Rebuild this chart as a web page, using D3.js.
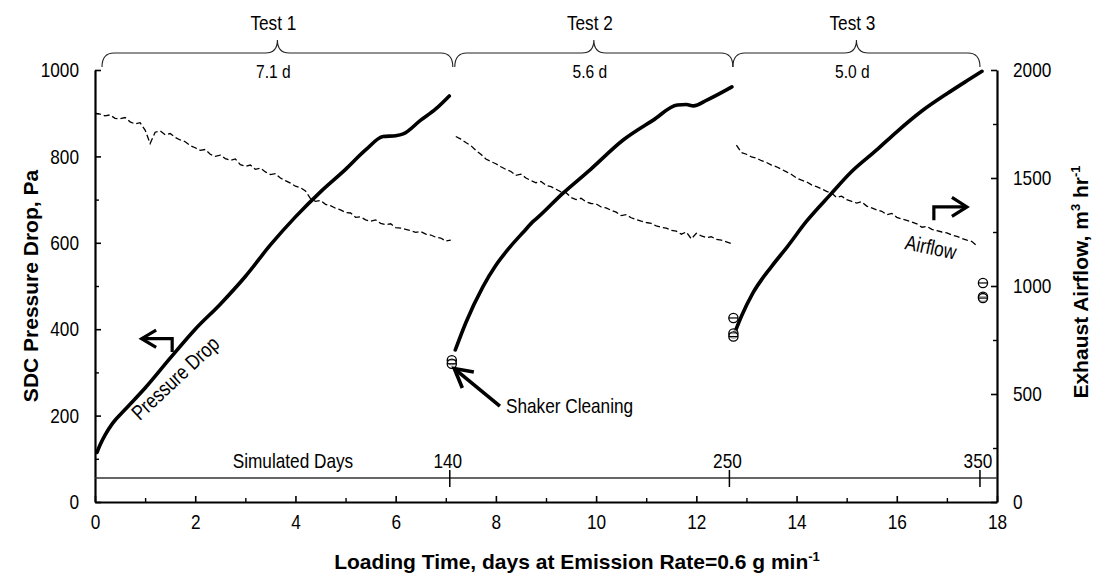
<!DOCTYPE html>
<html><head><meta charset="utf-8">
<script src="https://cdn.jsdelivr.net/npm/d3@7"></script>
<style>
html,body{margin:0;padding:0;background:#fff;}
svg{display:block;}
</style></head>
<body>
<svg id="chart" width="1101" height="583"></svg>
<script>
// ---------------- DATA ----------------
const xTicks = [0,2,4,6,8,10,12,14,16,18];
const xMinor = [1,3,5,7,9,11,13,15,17];
const leftTicks = [0,200,400,600,800,1000];
const leftMinor = [100,300,500,700,900];
const rightTicks = [0,500,1000,1500,2000];
const rightMinor = [250,750,1250,1750];

// Pressure drop (Pa) vs loading time (days)
const p1Days = [0.04,0.1,0.2,0.35,0.6,1.0,1.5,2.0,2.5,3.0,3.5,4.0,4.5,5.0,5.4,5.75,6.0,6.15,6.5,6.8,7.07];
const p1Pa   = [115,132,155,182,214,264,333,400,458,522,595,660,718,770,815,846,848,852,884,910,940];
const p2Days = [7.19,7.4,7.74,8.0,8.28,8.55,8.75,8.82,9.34,9.88,10.54,11.14,11.62,11.8,11.94,12.22,12.71];
const p2Pa   = [352,415,498,548,590,625,650,657,715,769,838,884,919,920,917,931,961];
const p3Days = [12.77,12.9,13.13,13.5,13.81,14.2,14.67,15.1,15.6,16.0,16.5,17.0,17.4,17.7];
const p3Pa   = [393,430,484,545,590,650,711,765,815,857,905,945,975,997];

// Pressure after shaker cleaning (Pa)
const cleanDays = [7.12,7.12,12.74,12.74,12.74,17.72,17.72,17.72];
const cleanPa   = [328,320,426,390,383,507,475,472];

// Exhaust airflow (m3/hr)
const a1Days = [0.0,0.1,0.2,0.3,0.4,0.5,0.6,0.7,0.8,0.9,1.0,1.1,1.2,1.3,1.4,1.5,1.6,1.7,1.8,1.9,2.0,2.1,2.2,2.3,2.4,2.5,2.6,2.7,2.8,2.9,3.0,3.1,3.2,3.3,3.4,3.5,3.6,3.7,3.8,3.9,4.0,4.1,4.2,4.3,4.4,4.5,4.6,4.7,4.8,4.9,5.0,5.1,5.2,5.3,5.4,5.5,5.6,5.7,5.8,5.9,6.0,6.1,6.2,6.3,6.4,6.5,6.6,6.7,6.8,6.9,7.0,7.1];
const a1Flow = [1800,1796,1788,1792,1776,1774,1780,1760,1750,1756,1722,1660,1712,1718,1700,1706,1688,1676,1668,1650,1640,1628,1632,1610,1600,1606,1590,1582,1588,1562,1554,1560,1540,1546,1528,1516,1520,1500,1488,1476,1462,1455,1440,1405,1392,1396,1378,1372,1360,1352,1340,1338,1318,1320,1306,1300,1306,1290,1284,1288,1270,1268,1262,1256,1248,1252,1240,1236,1226,1222,1208,1212];
const a2Days = [7.2,7.3,7.4,7.5,7.6,7.7,7.8,7.9,8.0,8.1,8.2,8.3,8.4,8.5,8.6,8.7,8.8,8.9,9.0,9.1,9.2,9.3,9.4,9.5,9.6,9.7,9.8,9.9,10.0,10.1,10.2,10.3,10.4,10.5,10.6,10.7,10.8,10.9,11.0,11.1,11.2,11.3,11.4,11.5,11.6,11.7,11.8,11.9,12.0,12.1,12.2,12.3,12.4,12.5,12.6,12.7];
const a2Flow = [1692,1680,1664,1650,1628,1610,1588,1576,1566,1552,1540,1530,1512,1518,1500,1488,1478,1484,1466,1460,1448,1436,1432,1410,1400,1406,1390,1382,1380,1366,1362,1350,1342,1326,1330,1316,1308,1300,1294,1290,1278,1272,1268,1258,1254,1240,1250,1218,1244,1232,1224,1228,1216,1212,1204,1196];
const a3Days = [12.8,12.9,13.0,13.1,13.2,13.3,13.4,13.5,13.6,13.7,13.8,13.9,14.0,14.1,14.2,14.3,14.4,14.5,14.6,14.7,14.8,14.9,15.0,15.1,15.2,15.3,15.4,15.5,15.6,15.7,15.8,15.9,16.0,16.1,16.2,16.3,16.4,16.5,16.6,16.7,16.8,16.9,17.0,17.1,17.2,17.3,17.4,17.5,17.6];
const a3Flow = [1652,1618,1610,1598,1592,1580,1572,1560,1552,1540,1528,1516,1500,1490,1482,1468,1460,1450,1438,1430,1410,1416,1400,1392,1384,1390,1370,1362,1352,1346,1330,1336,1318,1310,1304,1296,1288,1272,1276,1262,1256,1250,1246,1236,1230,1220,1212,1206,1186];

// Test braces
const testLabels = ["Test 1","Test 2","Test 3"];
const testDurations = ["7.1 d","5.6 d","5.0 d"];
const braceStart = [0.14,7.18,12.73];
const braceEnd   = [7.14,12.73,17.66];

// Simulated days secondary scale
const simLabels = ["140","250","350"];
const simLoadDays = [7.08,12.66,17.66];

// ---------------- LAYOUT ----------------
const W = 1101, H = 583;
const M = {top:70, right:104, bottom:81, left:95};
const svg = d3.select("#chart");
const x  = d3.scaleLinear().domain([0,18]).range([M.left, W-M.right]);
const yL = d3.scaleLinear().domain([0,1000]).range([H-M.bottom, M.top]);
const yR = d3.scaleLinear().domain([0,2000]).range([H-M.bottom, M.top]);

// narrow font detection
let narrowFam = "'Liberation Sans Narrow', 'Liberation Sans', Arial, sans-serif";
let sx = 1;
(function(){
  const t1 = svg.append("text").style("font-family","'Liberation Sans Narrow', 'Liberation Sans'").style("font-size","20px").text("Test 1 Simulated");
  const t2 = svg.append("text").style("font-family","'Liberation Sans'").style("font-size","20px").text("Test 1 Simulated");
  const r = t1.node().getComputedTextLength()/t2.node().getComputedTextLength();
  t1.remove(); t2.remove();
  if (r > 0.93) { sx = 0.82; narrowFam = "'Liberation Sans', Arial, sans-serif"; }
})();

function ntext(xp, yp, str, size, anchor, angle) {
  return svg.append("text")
    .attr("transform", `translate(${xp},${yp}) rotate(${angle||0}) scale(${sx},1)`)
    .style("font-family", narrowFam).style("font-size", size+"px")
    .attr("text-anchor", anchor||"start").attr("fill","#000").text(str);
}

// ---------------- AXES ----------------
function styleAxis(g){
  g.select(".domain").attr("stroke","#000").attr("stroke-width",2.2);
  g.selectAll(".tick line").attr("stroke","#000").attr("stroke-width",1.6);
  g.selectAll(".tick text").style("font-family", narrowFam).style("font-size","21px").attr("fill","#000");
}
const fmt = d3.format("d");
// bottom
const gx = svg.append("g").attr("transform",`translate(0,${H-M.bottom})`)
  .call(d3.axisBottom(x).tickValues(xTicks).tickSize(-6).tickSizeOuter(0).tickPadding(12).tickFormat(fmt));
styleAxis(gx);
gx.selectAll(".tick text").attr("transform",`scale(${sx},1)`);
svg.append("g").attr("transform",`translate(0,${H-M.bottom})`)
  .call(d3.axisBottom(x).tickValues(xMinor).tickSize(-4).tickFormat(""))
  .call(g=>{g.select(".domain").remove(); g.selectAll("line").attr("stroke","#000").attr("stroke-width",1.4);});
// left
const gl = svg.append("g").attr("transform",`translate(${M.left},0)`)
  .call(d3.axisLeft(yL).tickValues(leftTicks).tickSize(-6).tickSizeOuter(0).tickPadding(16).tickFormat(fmt));
styleAxis(gl);
gl.selectAll(".tick text").attr("x", -16/sx).attr("transform",`scale(${sx},1)`);
svg.append("g").attr("transform",`translate(${M.left},0)`)
  .call(d3.axisLeft(yL).tickValues(leftMinor).tickSize(-4).tickFormat(""))
  .call(g=>{g.select(".domain").remove(); g.selectAll("line").attr("stroke","#000").attr("stroke-width",1.4);});
// right
const gr = svg.append("g").attr("transform",`translate(${W-M.right},0)`)
  .call(d3.axisRight(yR).tickValues(rightTicks).tickSize(-6).tickSizeOuter(0).tickPadding(16).tickFormat(fmt));
styleAxis(gr);
gr.selectAll(".tick text").attr("x", 16/sx).attr("transform",`scale(${sx},1)`);
svg.append("g").attr("transform",`translate(${W-M.right},0)`)
  .call(d3.axisRight(yR).tickValues(rightMinor).tickSize(-4).tickFormat(""))
  .call(g=>{g.select(".domain").remove(); g.selectAll("line").attr("stroke","#000").attr("stroke-width",1.4);});

// axis titles
const titleFont = "'Liberation Sans', Arial, sans-serif";
const bt = svg.append("text").attr("x", 577).attr("y", 569).attr("text-anchor","middle")
  .style("font-family",titleFont).style("font-size","21px").style("font-weight","bold");
bt.append("tspan").text("Loading Time, days at Emission Rate=0.6 g min");
bt.append("tspan").attr("dy",-8).style("font-size","13px").text("-1");
svg.append("text").attr("transform",`translate(38,${(M.top+H-M.bottom)/2}) rotate(-90)`).attr("text-anchor","middle")
  .style("font-family",titleFont).style("font-size","21px").style("font-weight","bold").text("SDC Pressure Drop, Pa");
const rt = svg.append("text").attr("transform",`translate(1088,${(M.top+H-M.bottom)/2 - 4}) rotate(-90)`).attr("text-anchor","middle")
  .style("font-family",titleFont).style("font-size","21px").style("font-weight","bold");
rt.append("tspan").text("Exhaust Airflow, m");
rt.append("tspan").attr("dy",-8).style("font-size","13px").text("3");
rt.append("tspan").attr("dy",8).text(" hr");
rt.append("tspan").attr("dy",-8).style("font-size","13px").text("-1");

// ---------------- SIMULATED DAYS ----------------
const simY = H - M.bottom - 24;
svg.append("line").attr("x1",x(0)).attr("x2",x(18)).attr("y1",simY).attr("y2",simY)
  .attr("stroke","#333").attr("stroke-width",1.3);
simLoadDays.forEach((d,i)=>{
  svg.append("line").attr("x1",x(d)).attr("x2",x(d)).attr("y1",simY-8).attr("y2",simY+9)
    .attr("stroke","#000").attr("stroke-width",1.5);
  ntext(x(d)-2, simY-10, simLabels[i], 21, "middle");
});
ntext(x(3.95), simY-10, "Simulated Days", 21, "middle");

// ---------------- BRACES ----------------
testLabels.forEach((lab,i)=>{
  const x1 = x(braceStart[i]), x2 = x(braceEnd[i]), xm = (x1+x2)/2;
  const yb = 67, yl = 53, yp = 40, r = 12;
  const p = `M${x1},${yb} Q${x1},${yl} ${x1+r},${yl} L${xm-r},${yl} Q${xm},${yl} ${xm},${yp} Q${xm},${yl} ${xm+r},${yl} L${x2-r},${yl} Q${x2},${yl} ${x2},${yb}`;
  svg.append("path").attr("d",p).attr("fill","none").attr("stroke","#222").attr("stroke-width",1.1);
  ntext(xm-4, 30, lab, 21, "middle");
  ntext(xm-4, 78, testDurations[i], 19, "middle");
});

// ---------------- AIRFLOW ----------------
const aLine = d3.line().x(d=>x(d[0])).y(d=>yR(d[1]));
[[a1Days,a1Flow],[a2Days,a2Flow],[a3Days,a3Flow]].forEach(([ds,vs])=>{
  svg.append("path").datum(ds.map((d,i)=>[d,vs[i]])).attr("d",aLine)
    .attr("fill","none").attr("stroke","#000").attr("stroke-width",1.3)
    .attr("stroke-dasharray","6,3");
});

// ---------------- PRESSURE DROP ----------------
const pLine = d3.line().x(d=>x(d[0])).y(d=>yL(d[1])).curve(d3.curveMonotoneX);
[[p1Days,p1Pa],[p2Days,p2Pa],[p3Days,p3Pa]].forEach(([ds,vs])=>{
  svg.append("path").datum(ds.map((d,i)=>[d,vs[i]])).attr("d",pLine)
    .attr("fill","none").attr("stroke","#000").attr("stroke-width",3.6)
    .attr("stroke-linecap","round").attr("stroke-linejoin","round");
});

// cleaning markers
cleanDays.forEach((d,i)=>{
  const cx = x(d), cy = yL(cleanPa[i]);
  svg.append("circle").attr("cx",cx).attr("cy",cy).attr("r",4.6)
    .attr("fill","#fff").attr("fill-opacity",0.6).attr("stroke","#000").attr("stroke-width",1.3);
  svg.append("line").attr("x1",cx-4.6).attr("x2",cx+4.6).attr("y1",cy).attr("y2",cy).attr("stroke","#000").attr("stroke-width",1.2);
});

// ---------------- ANNOTATIONS ----------------
function poly(pts, w){
  svg.append("path").attr("d", d3.line()(pts.map(p=>[x(p[0]),yL(p[1])])))
    .attr("fill","none").attr("stroke","#000").attr("stroke-width",w)
    .attr("stroke-linejoin","miter").attr("stroke-linecap","butt");
}
// left bent arrow (pressure -> left axis)
poly([[1.54,347],[1.54,378],[0.95,378]],3.2);
poly([[1.22,398],[0.93,378],[1.22,358]],3.2);
// right bent arrow (airflow -> right axis)
poly([[16.74,652],[16.74,683],[17.38,683]],3.2);
poly([[17.10,705],[17.40,683],[17.10,661]],3.2);
// shaker cleaning arrow
poly([[8.08,222],[7.2,306]],3.6);
poly([[7.33,264],[7.17,309],[7.56,301]],3.6);

ntext(x(8.2), yL(206), "Shaker Cleaning", 21, "start");
ntext(x(1.6), yL(287), "Pressure Drop", 21, "middle", -43).attr("dy","0.35em");
ntext(x(16.68), yL(590), "Airflow", 21, "middle", 12).attr("dy","0.35em");
</script>
</body></html>
